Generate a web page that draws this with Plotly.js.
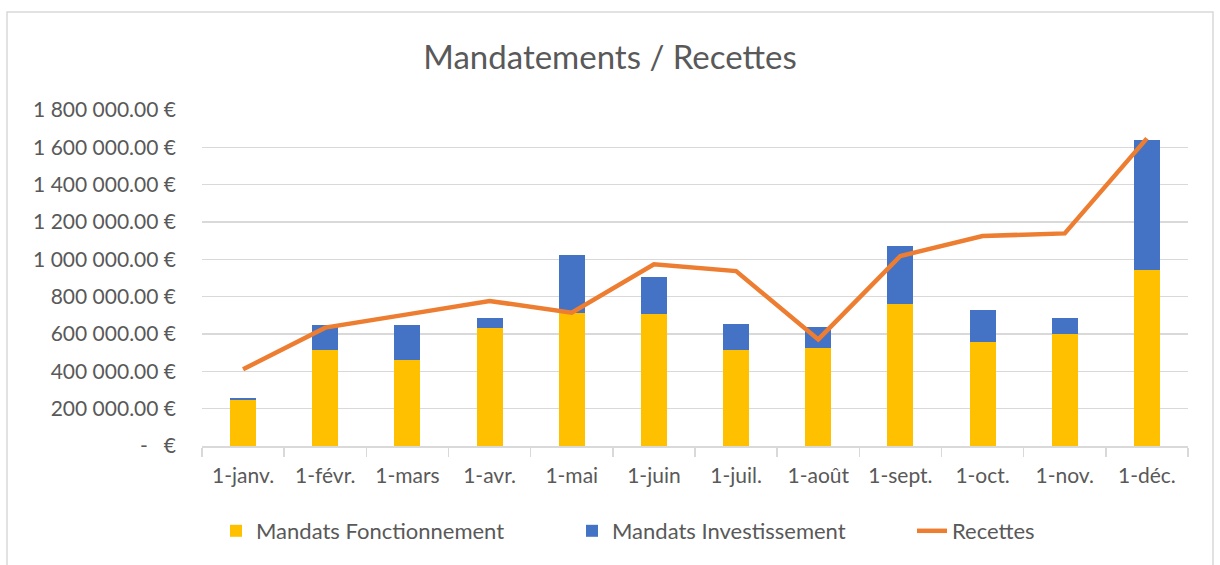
<!DOCTYPE html>
<html>
<head>
<meta charset="utf-8">
<script src="https://cdn.plot.ly/plotly-3.0.1.min.js"></script>
<style>html,body{margin:0;padding:0;background:#fff;}#chart{width:1220px;height:565px;}</style>
</head>
<body>
<div id="chart"></div>
<script>
const months = ["1-janv.","1-févr.","1-mars","1-avr.","1-mai","1-juin","1-juil.","1-août","1-sept.","1-oct.","1-nov.","1-déc."];
const mandatsFonctionnement = [247000, 514000, 461000, 632000, 714000, 707000, 514000, 525000, 761000, 557000, 600000, 943000];
const mandatsInvestissement = [10000, 134000, 187000, 54000, 309000, 198000, 140000, 112000, 310000, 172000, 86000, 696000];
const recettes = [411000, 634000, 705000, 777000, 714000, 973000, 937000, 571000, 1018000, 1125000, 1139000, 1648000];
const yTickVals = [0, 200000, 400000, 600000, 800000, 1000000, 1200000, 1400000, 1600000, 1800000];
const yTickText = ["-   €", "200 000.00 €", "400 000.00 €", "600 000.00 €", "800 000.00 €", "1 000 000.00 €", "1 200 000.00 €", "1 400 000.00 €", "1 600 000.00 €", "1 800 000.00 €"];

const FONT = "Lato, 'Noto Sans', sans-serif";
const TXT = "#595959";

const L = 202, R = 32, T = 110, B = 119;
const PW = 1220 - L - R, PH = 565 - T - B;
function px(x){ return (x - L) / PW; }
function py(y){ return (565 - B - y) / PH; }

const traces = [
  {type:"bar", name:"Mandats Fonctionnement", x:months, y:mandatsFonctionnement, marker:{color:"#FFC000"}, legend:"legend"},
  {type:"bar", name:"Mandats Investissement", x:months, y:mandatsInvestissement, marker:{color:"#4472C4"}, legend:"legend2"},
  {type:"scatter", mode:"lines", name:"Recettes", x:months, y:recettes, line:{color:"#ED7D31", width:4.5, shape:"linear"}, legend:"legend3"}
];

function legendAt(xPix){
  return {orientation:"h", x:px(xPix), xanchor:"left", y:py(531), yanchor:"middle",
          font:{family:FONT, size:22, color:TXT}, itemwidth:30, bgcolor:"rgba(0,0,0,0)"};
}

const layout = {
  width:1220, height:565,
  margin:{l:L, r:R, t:T, b:B, pad:0, autoexpand:false},
  paper_bgcolor:"#fff", plot_bgcolor:"#fff",
  barmode:"stack", bargap:0.684,
  font:{family:FONT, color:TXT, size:21},
  title:{text:"Mandatements / Recettes", font:{family:FONT, size:33, color:TXT}, x:0.5, xanchor:"center", y:1-57/565, yanchor:"middle", yref:"container"},
  xaxis:{type:"category", tickson:"boundaries", ticks:"outside", ticklen:9, tickcolor:"#d9d9d9", tickwidth:1.5,
         showline:true, linecolor:"#d9d9d9", linewidth:1.5, showgrid:false, tickfont:{family:FONT, size:21, color:TXT},
         ticklabelstandoff:10, fixedrange:true, automargin:false},
  yaxis:{range:[0,1800000], tickvals:yTickVals, ticktext:yTickText, showgrid:true, gridcolor:"#d9d9d9", gridwidth:1.5,
         zeroline:false, showline:false, ticks:"", tickfont:{family:FONT, size:21, color:TXT}, ticklabelstandoff:25, fixedrange:true, automargin:false},
  showlegend:true,
  legend:legendAt(216),
  legend2:legendAt(572),
  legend3:legendAt(912),
  shapes:[{type:"rect", xref:"paper", yref:"paper", x0:px(7), x1:px(1213), y0:py(12), y1:py(580), line:{color:"#d9d9d9", width:1.5}, fillcolor:"rgba(0,0,0,0)", layer:"below"}]
};

Plotly.newPlot("chart", traces, layout, {displayModeBar:false, staticPlot:true});
</script>
</body>
</html>
